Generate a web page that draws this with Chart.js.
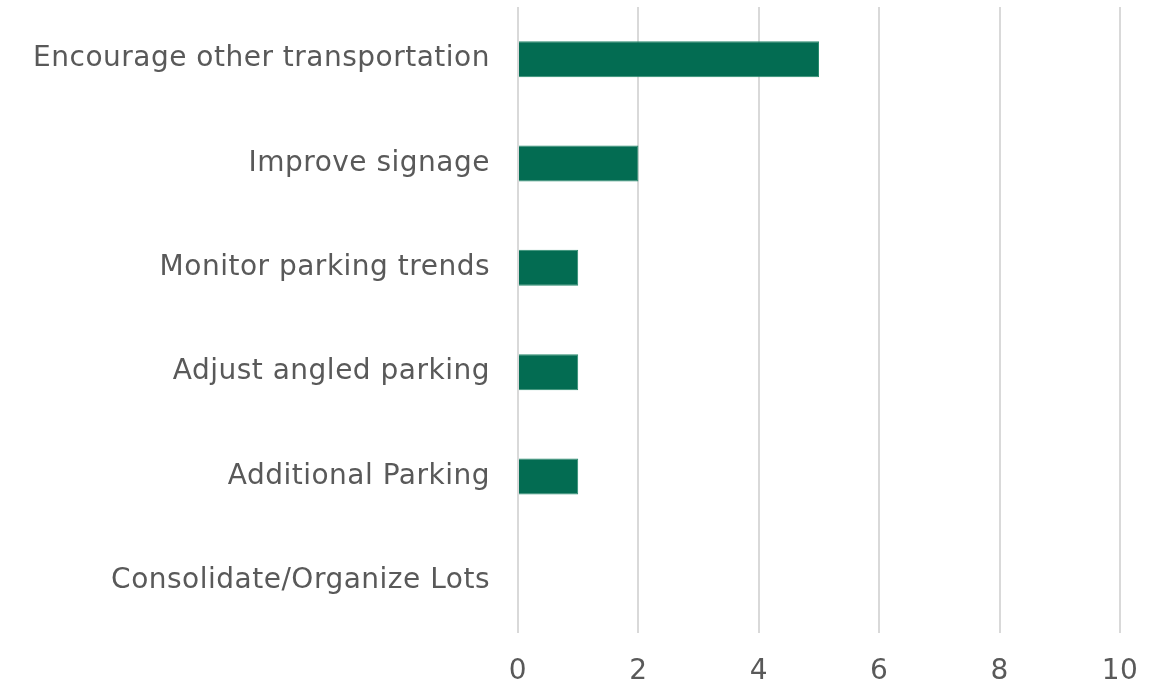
<!DOCTYPE html>
<html>
<head>
<meta charset="utf-8">
<script src="https://cdn.jsdelivr.net/npm/chart.js@4"></script>
<style>
  html, body { margin: 0; padding: 0; background: #fff; }
  #chart { display: block; }
</style>
</head>
<body>
<canvas id="chart" width="1168" height="689"></canvas>
<script>
const categories = [
    'Encourage other transportation',
    'Improve signage',
    'Monitor parking trends',
    'Adjust angled parking',
    'Additional Parking',
    'Consolidate/Organize Lots'
];
const responses = [5, 2, 1, 1, 1, 0];
const xTicks = [0, 2, 4, 6, 8, 10];

const FONT = '"DejaVu Sans", Verdana, sans-serif';

// a touch of tracking so DejaVu runs about as wide as Verdana
const tracking = {
    id: 'tracking',
    beforeUpdate: (chart) => { chart.ctx.letterSpacing = '0.5px'; },
    beforeDraw: (chart) => { chart.ctx.letterSpacing = '0.5px'; }
};

const ctx = document.getElementById('chart').getContext('2d');
new Chart(ctx, {
    type: 'bar',
    data: {
        labels: categories,
        datasets: [{
            data: responses,
            backgroundColor: '#036c52',
            borderColor: '#2a8a6e',
            borderWidth: 1,
            categoryPercentage: 1,
            barPercentage: 0.345
        }]
    },
    plugins: [tracking],
    options: {
        indexAxis: 'y',
        responsive: false,
        animation: false,
        layout: { padding: { top: 7, right: 48, bottom: 0, left: 0 } },
        plugins: { legend: { display: false }, tooltip: { enabled: false } },
        scales: {
            x: {
                min: xTicks[0],
                max: xTicks[xTicks.length - 1],
                afterBuildTicks: (scale) => { scale.ticks = xTicks.map(v => ({ value: v })); },
                afterFit: (scale) => { scale.height = 56; },
                grid: { color: '#d9d9d9', lineWidth: 2, drawTicks: false },
                border: { display: false },
                ticks: {
                    padding: 22,
                    color: '#595959',
                    font: { family: FONT, size: 28 }
                }
            },
            y: {
                afterFit: (scale) => {
                    scale.width = 518;
                    scale.paddingTop = 0;
                    scale.paddingBottom = 0;
                },
                grid: { display: false, drawTicks: false },
                border: { display: false },
                ticks: {
                    padding: 28,
                    color: '#595959',
                    font: { family: FONT, size: 28 }
                }
            }
        }
    }
});
</script>
</body>
</html>
